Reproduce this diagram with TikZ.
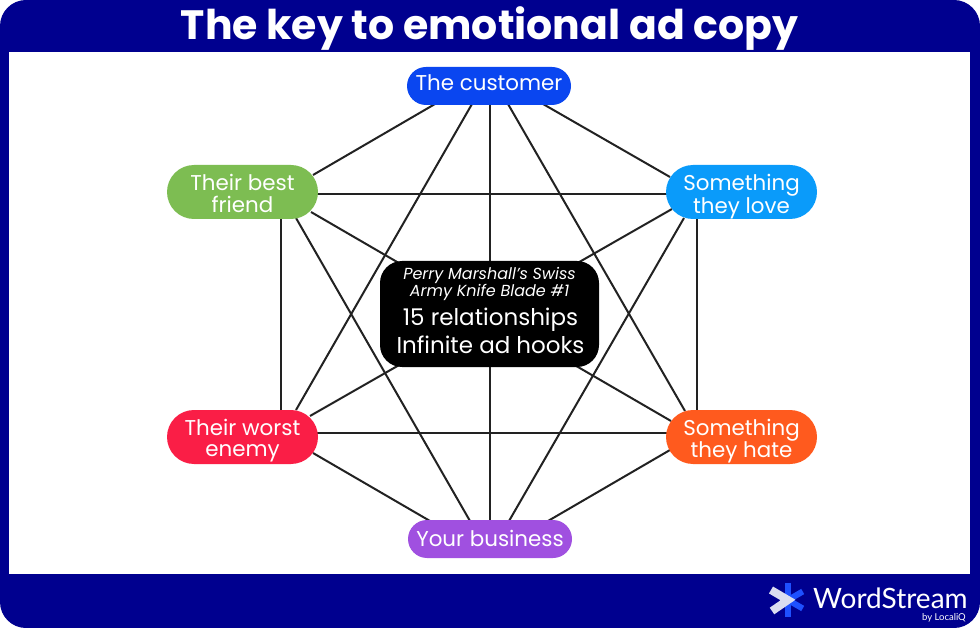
\documentclass[tikz,border=0pt]{standalone}
\usepackage{fontspec}
\setmainfont{Poppins}
\newfontfamily\logofont{Lato}
\usetikzlibrary{calc}
\definecolor{navy}{HTML}{00008F}
\definecolor{edge}{HTML}{222222}
\definecolor{custblue}{HTML}{0A46F0}
\definecolor{lovecyan}{HTML}{0A9BFA}
\definecolor{friendgreen}{HTML}{7DBD52}
\definecolor{enemyred}{HTML}{FA1E46}
\definecolor{hateorange}{HTML}{FF5A1E}
\definecolor{buspurple}{HTML}{A050E0}
\definecolor{logoblue}{HTML}{1E50FF}
\definecolor{logopale}{HTML}{DADDF0}
\pgfdeclarelayer{back}
\pgfdeclarelayer{edges}
\pgfsetlayers{back,edges,main}
\tikzset{
  x=1pt,y=-1pt,
  wide/.style={rectangle,rounded corners=27pt,minimum width=151pt,minimum height=54pt,inner sep=0pt,
    text=white,font=\fontsize{21.4}{21}\selectfont},
  slim/.style={rectangle,rounded corners=19pt,minimum width=164pt,minimum height=38pt,inner sep=0pt,
    text=white,font=\fontsize{21.4}{21}\selectfont},
  link/.style={draw=edge,line width=2pt},
  hub/.style={rectangle,fill=black,rounded corners=22pt,minimum width=219pt,minimum height=106pt,inner sep=0pt},
  spoke/.style={line width=6pt,draw=logoblue},
}
\newcommand{\rel}[4]{\draw[link] ([shift={#2}]#1.center) -- ([shift={#4}]#3.center);}
% centred lines, moved vertically without changing the size of the box
\newcommand{\lines}[2]{\raisebox{#1}[\height][\depth]{\begin{tabular}{@{}c@{}}#2\end{tabular}}}
\begin{document}
\begin{tikzpicture}
\useasboundingbox (0,0) rectangle (980,628);

% frame and white panel
\begin{pgfonlayer}{back}
  \fill[white] (0,0) rectangle (980,628);
  \fill[navy,rounded corners=26pt] (0,0) rectangle (980,628);
  \fill[white] (9,52) rectangle (970,574);
\end{pgfonlayer}

\node[text=white,font=\fontsize{41}{44}\bfseries\selectfont,inner sep=0pt] (title) at (489.5,29) {The key to emotional ad copy};

% the six parties
\node[slim,fill=custblue] (cust) at (489,86) {\lines{0pt}{The customer}};
\node[slim,fill=buspurple] (bus) at (490,539) {\lines{-3pt}{Your business}};
\node[wide,fill=friendgreen] (friend) at (242.5,192) {\lines{-4.5pt}{Their best\\friend}};
\node[wide,fill=lovecyan] (love) at (741.5,192) {\lines{-5pt}{Something\\they love}};
\node[wide,fill=enemyred] (enemy) at (242.5,437) {\lines{-4pt}{Their worst\\enemy}};
\node[wide,fill=hateorange] (hate) at (741.5,437) {\lines{-4.5pt}{Something\\they hate}};

% central panel
\node[hub] (centre) at (489.5,314) {};
\node[text=white,align=center,inner sep=0pt,font=\fontsize{16}{17.5}\itshape\selectfont] (blade) at (489.5,284) {Perry Marshall’s Swiss\\Army Knife Blade \#1};
\node[text=white,align=center,inner sep=0pt,font=\fontsize{23}{28}\selectfont] (count) at (490.5,331) {15 relationships\\Infinite ad hooks};

% the fifteen relationships
\begin{pgfonlayer}{edges}
  \rel{cust}{(-54,18)}{friend}{(70.5,-17)}
  \rel{cust}{(-17,18)}{enemy}{(53.5,-27)}
  \rel{cust}{(54,18)}{love}{(-71.5,-15)}
  \rel{cust}{(19,18)}{hate}{(-56.5,-26)}
  \rel{cust}{(1,18)}{bus}{(0,-18)}
  \rel{friend}{(74,2)}{love}{(-74,2)}
  \rel{friend}{(38.5,26)}{enemy}{(38.5,-26)}
  \rel{love}{(-44.5,26)}{hate}{(-44.5,-26)}
  \rel{enemy}{(74,-4)}{hate}{(-74,-4)}
  \rel{friend}{(53.5,26)}{bus}{(-20,-18)}
  \rel{love}{(-57.5,26)}{bus}{(19,-18)}
  \rel{enemy}{(70.5,16)}{bus}{(-60,-18)}
  \rel{hate}{(-71.5,13)}{bus}{(58,-18)}
  \rel{friend}{(68.5,20)}{hate}{(-70.5,-16)}
  \rel{love}{(-69.5,17)}{enemy}{(67.5,-21)}
\end{pgfonlayer}

% logo mark and wordmark
\coordinate (mark) at (788,600);
\foreach \a in {-90,-30,30,90}
  \draw[spoke] (mark) -- ++(\a:17);
\draw[draw=logopale,line width=8pt,miter limit=4] (771,590) -- (mark) -- (772,611);
\node[text=white,anchor=west,inner sep=0pt,font=\logofont\fontsize{28}{28}\selectfont] (brand) at (813,598) {WordStream};
\node[text=white,anchor=east,inner sep=0pt,font=\logofont\fontsize{9.5}{11}\selectfont] (by) at (966,618) {by LocaliQ};
\end{tikzpicture}
\end{document}
